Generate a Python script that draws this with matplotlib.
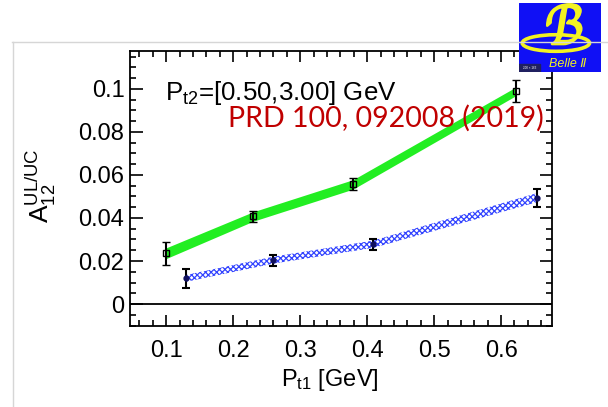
import matplotlib.pyplot as plt
import matplotlib.patheffects as pe
from matplotlib.lines import Line2D
from matplotlib.patches import Rectangle, Ellipse
from matplotlib.ticker import MultipleLocator

plt.rcParams['font.family'] = ['Liberation Sans', 'DejaVu Sans']
plt.rcParams['mathtext.fontset'] = 'custom'
plt.rcParams['mathtext.rm'] = 'Liberation Sans'
plt.rcParams['mathtext.it'] = 'Liberation Sans'
plt.rcParams['hatch.linewidth'] = 0.9

# A12 UL/UC vs Pt1 for Pt2 in [0.50, 3.00] GeV
green_x = [0.099, 0.230, 0.379, 0.623]
green_y = [0.0235, 0.0407, 0.0556, 0.0990]
green_err = [0.0055, 0.0025, 0.0028, 0.0052]
green_band = [0.0025, 0.0022, 0.0022, 0.0020]

blue_x = [0.129, 0.260, 0.409, 0.653]
blue_y = [0.0119, 0.0204, 0.0278, 0.0494]
blue_err = [0.0044, 0.0025, 0.0025, 0.0042]
blue_band = [0.0016, 0.0016, 0.0017, 0.0021]

xticks = [0.1, 0.2, 0.3, 0.4, 0.5, 0.6]
xticklabels = ['0.1', '0.2', '0.3', '0.4', '0.5', '0.6']
yticks = [0, 0.02, 0.04, 0.06, 0.08, 0.1]
yticklabels = ['0', '0.02', '0.04', '0.06', '0.08', '0.1']

fig = plt.figure(figsize=(6.08, 4.07), dpi=100)
fig.patch.set_facecolor('white')

# slide frame lines
fig.add_artist(Line2D([12 / 608, 1], [1 - 41.5 / 407] * 2, color='#d6d6d6', lw=1))
fig.add_artist(Line2D([12.5 / 608] * 2, [0, 1 - 41.5 / 407], color='#d6d6d6', lw=1))

ax = fig.add_axes([130 / 608, 1 - 326 / 407, 422 / 608, 275 / 407])

# bands
g_lo = [y - b for y, b in zip(green_y, green_band)]
g_hi = [y + b for y, b in zip(green_y, green_band)]
ax.fill_between(green_x, g_lo, g_hi, color='#22ee22', lw=0, zorder=2)

b_lo = [y - b for y, b in zip(blue_y, blue_band)]
b_hi = [y + b for y, b in zip(blue_y, blue_band)]
ax.fill_between(blue_x, b_lo, b_hi, facecolor='none', edgecolor='#3344ff',
                hatch='xxxxxx', lw=0, zorder=2)

ax.axhline(0, color='black', lw=1.3, zorder=1)

ax.errorbar(green_x, green_y, yerr=green_err, fmt='s', ms=5, mfc='none',
            mec='black', mew=1, ecolor='black', elinewidth=1.5, capsize=3,
            capthick=1.5, zorder=4)
ax.errorbar(blue_x, blue_y, yerr=blue_err, fmt='o', ms=3.5, mfc='#101060',
            mec='#101060', ecolor='black', elinewidth=1.5, capsize=3,
            capthick=1.5, zorder=4)

ax.set_xlim(0.046, 0.676)
ax.set_ylim(-0.0102, 0.1176)
ax.set_xticks(xticks)
ax.set_xticklabels(xticklabels)
ax.set_yticks(yticks)
ax.set_yticklabels(yticklabels)
ax.xaxis.set_minor_locator(MultipleLocator(0.02))
ax.yaxis.set_minor_locator(MultipleLocator(0.005))
ax.tick_params(which='both', direction='in', top=True, right=True, width=1.2,
               labelsize=17)
ax.tick_params(axis='x', which='major', length=8, pad=10)
ax.tick_params(axis='x', which='minor', length=4)
ax.tick_params(axis='y', which='major', length=9, pad=4)
ax.tick_params(axis='y', which='minor', length=4.5)
for s in ax.spines.values():
    s.set_linewidth(1.3)

fig.text(165 / 608, 1 - 100 / 407, r'$\mathrm{P}_{\mathrm{t2}}$=[0.50,3.00] GeV',
         fontsize=18.6, va='baseline', ha='left')
fig.text(228 / 608, 1 - 127 / 407, 'PRD 100, 092008 (2019)', color='#c00000',
         fontsize=20.5, family='Lato', va='baseline', ha='left')

fig.text(330 / 608, 1 - 380 / 407, r'$\mathrm{P}_{\mathrm{t1}}$ [GeV]',
         fontsize=17, ha='center', va='center')
fig.text(41 / 608, 1 - 186 / 407, r'$\mathrm{A}_{12}^{\mathrm{UL/UC}}$',
         fontsize=19, rotation=90, ha='center', va='center')

# Belle II logo
yellow = '#f2f222'
lg = fig.add_axes([519 / 608, 1 - 72 / 407, 82 / 608, 69 / 407])
lg.set_xlim(0, 1)
lg.set_ylim(0, 1)
lg.set_axis_off()
lg.add_patch(Rectangle((0, 0), 1, 1, color='#1010f5'))
lg.add_patch(Ellipse((0.45, 0.42), 0.82, 0.24, fill=False, ec=yellow, lw=2.6))
lg.text(0.57, 0.40, r'$\mathcal{B}$', color=yellow, fontsize=38,
        ha='center', va='baseline',
        path_effects=[pe.withStroke(linewidth=1.8, foreground=yellow)])
lg.text(0.60, 0.12, 'Belle Ⅱ', color=yellow, fontsize=9, style='italic',
        ha='center', va='center')
lg.add_patch(Rectangle((0, 0), 0.25, 0.12, color='#202060'))
lg.text(0.125, 0.06, '200 × 163', color='white', fontsize=2.2,
        ha='center', va='center')

fig.savefig('out.png', dpi=100)
